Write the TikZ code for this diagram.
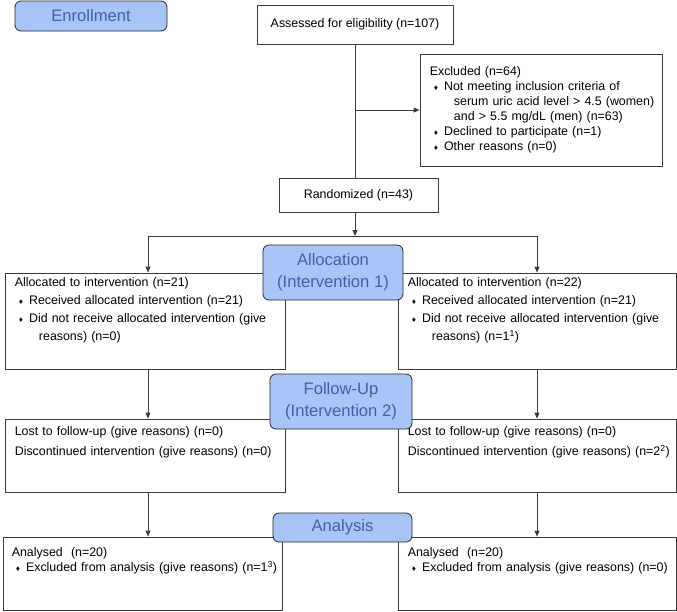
\documentclass[tikz,border=0pt]{standalone}
\usepackage{fontspec}
\setmainfont{Liberation Sans}
\usepackage{amssymb}
\usetikzlibrary{arrows.meta, positioning, calc}

\definecolor{hdrfill}{RGB}{168,197,247}
\definecolor{hdrtext}{RGB}{62,96,166}
\definecolor{linegray}{RGB}{60,60,60}

\setlength{\parindent}{0pt}
\newcommand{\bul}{\par\hangindent=1.95em\hangafter=1\hspace*{0.3em}%
  \makebox[0.85em][l]{\raisebox{0.15ex}{\tiny$\blacklozenge$}}}

\begin{document}
\begin{tikzpicture}[x=1pt, y=-1pt, >={Triangle[length=6pt, width=5pt]},
  box/.style={draw=linegray, line width=0.8pt, fill=white, inner sep=0pt,
              font=\fontsize{12.4}{15}\selectfont},
  hdr/.style={draw=black!85, line width=0.8pt, fill=hdrfill, rounded corners=6pt,
              inner sep=0pt, align=center, text=hdrtext,
              font=\fontsize{16.6}{22}\selectfont},
  txt/.style={anchor=north west, align=left, inner sep=0pt, text width=268pt,
              font=\fontsize{12.4}{18}\selectfont},
  link/.style={draw=linegray, line width=0.8pt}]

\useasboundingbox (0,0) rectangle (677,611);

% boxes
\node[box, minimum width=196pt, minimum height=39pt] (assess) at (355,24.5) {Assessed for eligibility (n=107)};
\node[box, minimum width=242pt, minimum height=112pt] (excl) at (541,110) {};
\node[box, minimum width=159pt, minimum height=34pt] (rand) at (358.5,195) {Randomized (n=43)};
\node[box, minimum width=280pt, minimum height=96pt] (allocL) at (145,321) {};
\node[box, minimum width=278pt, minimum height=96pt] (allocR) at (537,321) {};
\node[box, minimum width=280pt, minimum height=73pt] (fuL) at (145,455.5) {};
\node[box, minimum width=278pt, minimum height=73pt] (fuR) at (537,455.5) {};
\node[box, minimum width=279pt, minimum height=73pt] (anL) at (142.5,573.5) {};
\node[box, minimum width=278pt, minimum height=73pt] (anR) at (537,573.5) {};

% box texts
\node[txt, font=\fontsize{12.4}{15}\selectfont] (exclT) at ([xshift=10pt, yshift=-13pt]excl.north west)
  {Excluded (n=64)
   \bul Not meeting inclusion criteria of\newline serum uric acid level > 4.5 (women)\newline and > 5.5 mg/dL (men) (n=63)
   \bul Declined to participate (n=1)
   \bul Other reasons (n=0)\par};
\node[txt] (allocLT) at ([xshift=10pt, yshift=-5pt]allocL.north west)
  {Allocated to intervention (n=21)
   \bul Received allocated intervention (n=21)
   \bul Did not receive allocated intervention (give\newline reasons) (n=0)\par};
\node[txt] (allocRT) at ([xshift=10pt, yshift=-5pt]allocR.north west)
  {Allocated to intervention (n=22)
   \bul Received allocated intervention (n=21)
   \bul Did not receive allocated intervention (give\newline reasons) (n=1\textsuperscript{1})\par};
\node[txt, font=\fontsize{12.4}{20}\selectfont] (fuLT) at ([xshift=10pt, yshift=-8pt]fuL.north west)
  {Lost to follow-up (give reasons) (n=0)\\Discontinued intervention (give reasons) (n=0)};
\node[txt, font=\fontsize{12.4}{20}\selectfont] (fuRT) at ([xshift=10pt, yshift=-8pt]fuR.north west)
  {Lost to follow-up (give reasons) (n=0)\\Discontinued intervention (give reasons) (n=2\textsuperscript{2})};
\node[txt, font=\fontsize{12.4}{15}\selectfont] (anLT) at ([xshift=9pt, yshift=-11pt]anL.north west)
  {Analysed~~(n=20)
   \bul Excluded from analysis (give reasons) (n=1\textsuperscript{3})\par};
\node[txt, font=\fontsize{12.4}{15}\selectfont] (anRT) at ([xshift=10pt, yshift=-11pt]anR.north west)
  {Analysed~~(n=20)
   \bul Excluded from analysis (give reasons) (n=0)\par};

% connectors
\coordinate (splitL) at (148,236);
\coordinate (splitR) at (537,236);
\coordinate (split) at (assess.south |- splitL);

\draw[link] (assess.south) -- (assess.south |- rand.north);
\draw[link, ->] (assess.south |- excl.west) -- (excl.west);
\draw[link, ->] (rand.south -| split) -- (split);
\draw[link] (splitL) -- (splitR);
\foreach \s in {L,R}{
  \draw[link, ->] (split\s) -- (split\s |- alloc\s.north);
  \draw[link, ->] (alloc\s.south -| split\s) -- (split\s |- fu\s.north);
  \draw[link, ->] (fu\s.south -| split\s) -- (split\s |- an\s.north);
}

% stage headers
\node[hdr, minimum width=152pt, minimum height=30pt] (enroll) at (91,16) {Enrollment};
\node[hdr, minimum width=140pt, minimum height=55pt] (allocH) at (333,272.5) {Allocation\\(Intervention 1)};
\node[hdr, minimum width=142pt, minimum height=55pt] (fuH) at (341,401.5) {Follow-Up\\(Intervention 2)};
\node[hdr, minimum width=139pt, minimum height=29pt] (anH) at (342.5,527.5) {Analysis};

\end{tikzpicture}
\end{document}
